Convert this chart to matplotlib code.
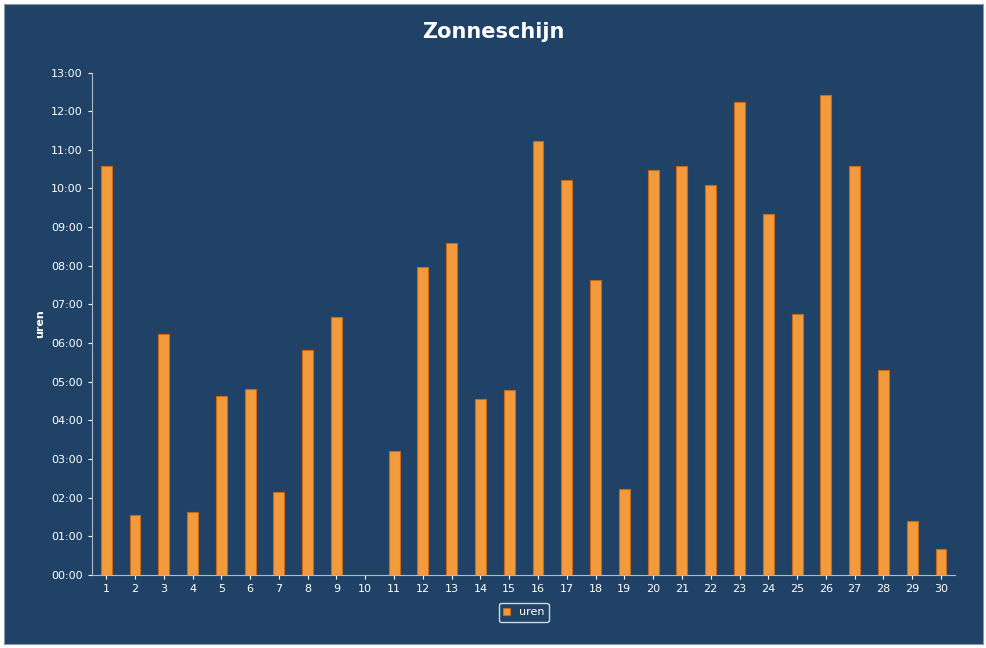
import matplotlib
matplotlib.use("Agg")
import matplotlib.pyplot as plt
from matplotlib.ticker import FuncFormatter, MultipleLocator

days = list(range(1, 31))
uren = [10.57, 1.55, 6.24, 1.63, 4.64, 4.82, 2.15, 5.83, 6.66, 0.0,
        3.21, 7.98, 8.58, 4.56, 4.79, 11.24, 10.23, 7.64, 2.23, 10.47,
        10.57, 10.08, 12.25, 9.33, 6.74, 12.41, 10.57, 5.31, 1.40, 0.67]

bg = "#1F4266"
fig = plt.figure(figsize=(9.87, 6.48), dpi=100, facecolor="white")
outer = fig.add_axes([0.004, 0.006, 0.992, 0.988])
outer.set_facecolor(bg); outer.set_xticks([]); outer.set_yticks([])
for s in outer.spines.values(): s.set_color("#8899aa")
ax = fig.add_axes([0.093, 0.113, 0.875, 0.775])
ax.set_facecolor(bg)
ax.bar(days, uren, width=0.38, color="#F39B3C", edgecolor="#C86A1A", linewidth=0.8, label="uren")
ax.set_xlim(0.5, 30.5)
ax.set_ylim(0, 13)
ax.yaxis.set_major_locator(MultipleLocator(1))
ax.yaxis.set_major_formatter(FuncFormatter(lambda v, p: f"{int(round(v)):02d}:00"))
ax.set_xticks(days)
ax.tick_params(colors="white", labelsize=8, length=3)
for s in ["top", "right"]: ax.spines[s].set_visible(False)
for s in ["left", "bottom"]: ax.spines[s].set_color("#aabbcc")
ax.set_ylabel("uren", color="white", fontsize=8, fontweight="bold")
fig.text(0.5, 0.95, "Zonneschijn", color="white", fontsize=15, fontweight="bold", ha="center", va="center")
leg = ax.legend(loc="upper center", bbox_to_anchor=(0.5, -0.045), fontsize=8, frameon=True,
                handlelength=0.6, handleheight=0.6, facecolor=bg, edgecolor="white")
for t in leg.get_texts(): t.set_color("white")
fig.savefig("out.png", dpi=100, facecolor=fig.get_facecolor())
